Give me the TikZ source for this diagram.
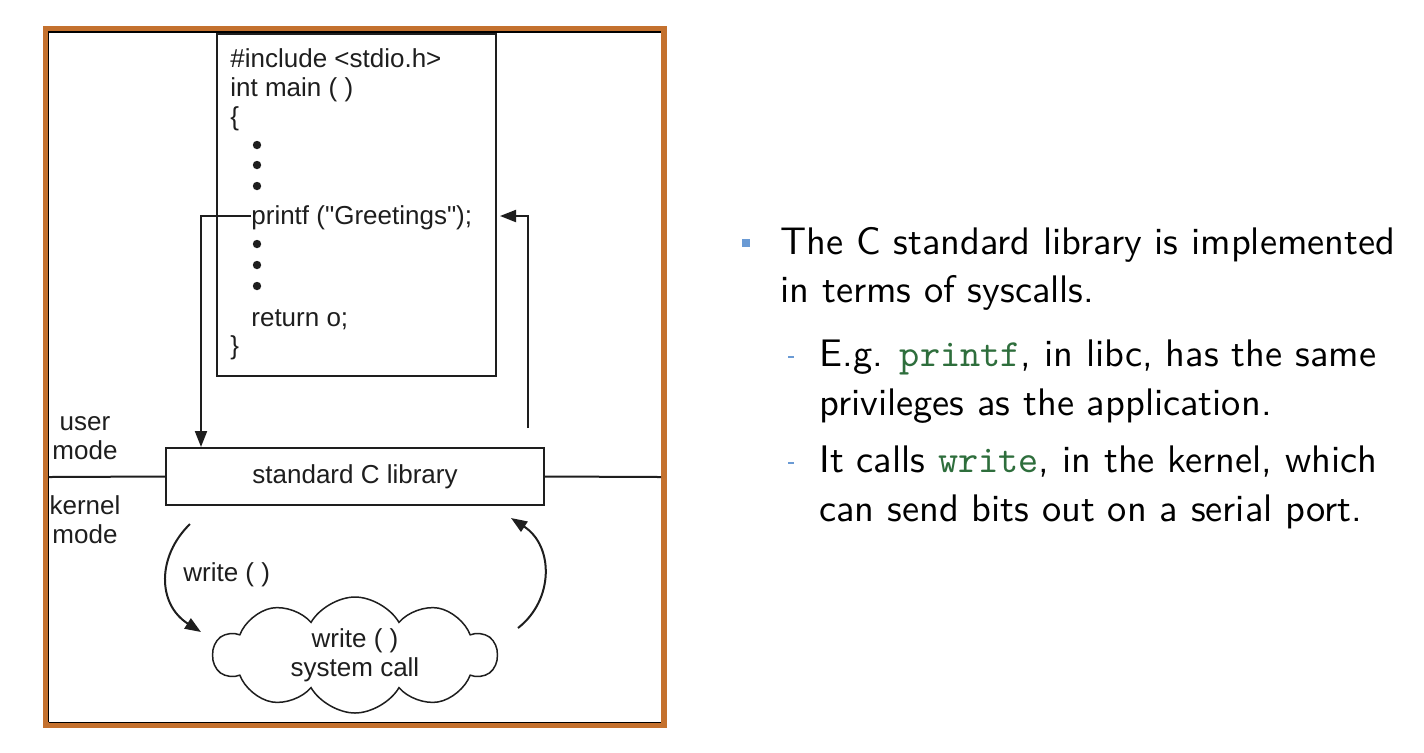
\documentclass[tikz,border=0pt]{standalone}
\usepackage{fontspec}
\newfontfamily\diagfont{Liberation Sans}
\usetikzlibrary{shapes.symbols,arrows.meta}
\definecolor{frameorange}{RGB}{196,113,46}
\definecolor{beamerblue}{RGB}{106,154,212}
\definecolor{codegreen}{RGB}{46,110,60}
\definecolor{ink}{RGB}{30,30,30}
\newcommand\cmono[1]{{\ttfamily\color{codegreen}#1}}
\newcommand\slideline[1]{\scalebox{1.92}{\fontsize{10}{12}\selectfont\sffamily #1}}
\begin{document}
\begin{tikzpicture}[x=0.5pt,y=-0.5pt,
  dtext/.style={font=\diagfont\fontsize{13}{14.5}\selectfont, inner sep=0pt, text=ink},
  codeline/.style={dtext, anchor=base west},
  box/.style={draw=ink, line width=0.75pt, inner sep=0pt},
  arr/.style={-{Triangle[length=8pt,width=6pt]}, line width=1pt, draw=ink},
  dotb/.style={circle, fill=ink, inner sep=0pt, minimum size=4.2pt},
  slide/.style={anchor=base west, inner sep=0pt}]
\useasboundingbox (0,0) rectangle (1424,752);
\fill[white] (0,0) rectangle (1424,752);
% frame
\draw[frameorange, line width=2.8pt] (45.5,28.8) rectangle (664,725);
\draw[black, line width=0.6pt] (48.6,722.2) -- (48.6,32) -- (661,32);
\draw[black, line width=0.6pt] (48.6,722.2) -- (661,722.2);
% code box
\node[box, minimum width=139.5pt, minimum height=171pt, anchor=north west] (codebox) at (216,33) {};
\node[codeline] (l1) at (230,67) {\#include <stdio.h>};
\node[codeline] (l2) at (230,96) {int main ( )};
\node[codeline] (l3) at (230,125) {\{};
\node[dotb] (d1) at (257,145) {};
\node[dotb] (d2) at (257,165) {};
\node[dotb] (d3) at (257,186) {};
\node[codeline] (printf) at (251,224) {printf ("Greetings");};
\node[dotb] (d4) at (257,244) {};
\node[dotb] (d5) at (257,265) {};
\node[dotb] (d6) at (257,286) {};
\node[codeline] (ret) at (251,326) {return o;};
\node[codeline] (l9) at (230,354) {\}};
% library box
\node[box, dtext, minimum width=189pt, minimum height=28.5pt] (lib) at (355,476.5) {standard C library};
\coordinate (lineL) at (48.6,477);
\coordinate (lineR) at (661,477);
\draw[ink, line width=1pt] (lineL) -- (lib.west);
\draw[ink, line width=1pt] (lib.east) -- (lineR);
\node[dtext, align=center] (umode) at (85,438) {user\\mode};
\node[dtext, align=center] (kmode) at (85,520) {kernel\\mode};
% arrows to/from library
\coordinate (libin) at (201,447);
\coordinate (retstart) at (528,428);
\coordinate (retend) at (500,216);
\draw[arr] (printf.west |- 0,216) -| (libin);
\draw[arr] (retstart) |- (retend);
% cloud
\node[draw=ink, line width=0.75pt, cloud, cloud puffs=10, cloud puff arc=120, cloud ignores aspect,
      minimum width=141.5pt, minimum height=58pt, dtext, align=center] (sys) at (355,655) {write ( )\\system call};
\coordinate (wa1) at (190,524);
\coordinate (wa2) at (201,632);
\coordinate (wb1) at (518,628);
\coordinate (wb2) at (511,518);
\draw[arr] (wa1) .. controls (157,556) and (157,604) .. (wa2);
\draw[arr] (wb1) .. controls (554,600) and (554,546) .. (wb2);
\node[dtext, anchor=west] (wlabel) at (183,575) {write ( )};
% right text
\fill[beamerblue] (742,239) rectangle (750,247);
\node[slide] (t1) at (780,254) {\slideline{The C standard library is implemented}};
\node[slide] (t2) at (780,302) {\slideline{in terms of syscalls.}};
\fill[beamerblue] (788,356) rectangle (794,358);
\node[slide] (s1) at (819,366) {\slideline{E.g. \cmono{printf}, in libc, has the same}};
\node[slide] (s2) at (819,415) {\slideline{privileges as the application.}};
\fill[beamerblue] (788,462) rectangle (794,464);
\node[slide] (s3) at (819,472) {\slideline{It calls \cmono{write}, in the kernel, which}};
\node[slide] (s4) at (819,521) {\slideline{can send bits out on a serial port.}};
\end{tikzpicture}
\end{document}
